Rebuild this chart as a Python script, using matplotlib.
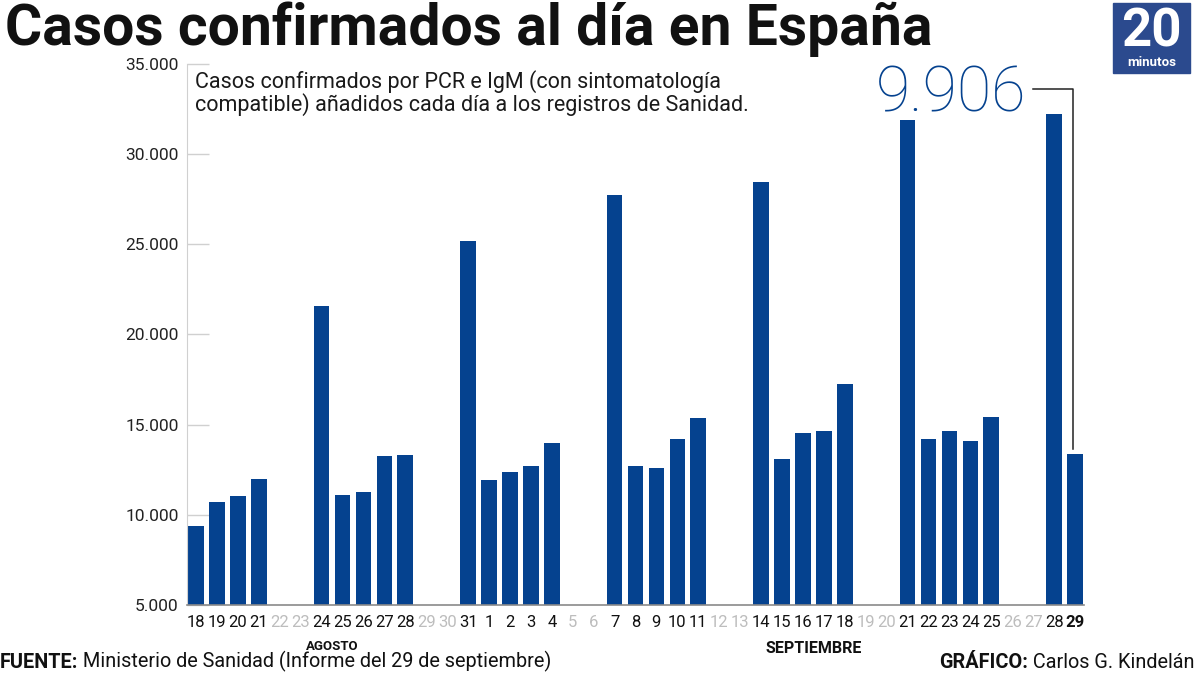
import numpy as np
import matplotlib
matplotlib.use("Agg")
import matplotlib.pyplot as plt
import matplotlib.ticker as mticker
from matplotlib.patches import Rectangle

# Datos: casos añadidos cada dia (nan = fin de semana, sin datos)
dias = ["18", "19", "20", "21", "22", "23", "24", "25", "26", "27", "28", "29", "30", "31",
        "1", "2", "3", "4", "5", "6", "7", "8", "9", "10", "11", "12", "13", "14",
        "15", "16", "17", "18", "19", "20", "21", "22", "23", "24", "25", "26", "27", "28", "29"]
casos = [9390, 10735, 11030, 11970, np.nan, np.nan, 21600, 11090, 11290, 13270, 13330, np.nan, np.nan, 25200,
         11950, 12350, 12700, 13960, np.nan, np.nan, 27760, 12700, 12570, 14180, 15390, np.nan, np.nan, 28460,
         13090, 14560, 14650, 17270, np.nan, np.nan, 31900, 14180, 14650, 14070, 15440, np.nan, np.nan, 32200, 13390]
ultimo_dato = "9.906"
meses = ["AGOSTO", "SEPTIEMBRE"]
meses_centro = [6.5, 29.5]

AZUL = "#05428f"
FUENTE = ["Roboto", "DejaVu Sans"]

fig = plt.figure(figsize=(12, 6.75), dpi=100)
ax = fig.add_axes([187 / 1200, 70 / 675, 897 / 1200, 541 / 675])

x = np.arange(len(dias))
ax.bar(x, casos, width=0.75, color=AZUL, zorder=2)

ax.set_xlim(-0.43, len(dias) - 0.57)
ax.set_ylim(5000, 35000)

# Eje Y
ax.yaxis.set_major_locator(mticker.MultipleLocator(5000))
ax.yaxis.set_major_formatter(mticker.FuncFormatter(lambda v, p: f"{int(v):,}".replace(",", ".")))
ax.tick_params(axis="y", direction="in", length=16, width=1, color="#d0d0d0",
               labelsize=12.5, labelcolor="#222222", pad=6)
for lab in ax.get_yticklabels():
    lab.set_family(FUENTE)

# Eje X
ax.set_xticks(x)
ax.set_xticklabels(dias)
ax.tick_params(axis="x", length=0, pad=7, labelsize=12)
for i, lab in enumerate(ax.get_xticklabels()):
    lab.set_family(FUENTE)
    if np.isnan(casos[i]):
        lab.set_color("#bdbdbd")
    else:
        lab.set_color("#111111")
    if i == len(dias) - 1:
        lab.set_fontweight("bold")

for s in ["top", "right"]:
    ax.spines[s].set_visible(False)
ax.spines["left"].set_color("#d0d0d0")
ax.spines["bottom"].set_color("#8a8a8a")
ax.spines["bottom"].set_linewidth(1.2)

# Meses
ax.text(meses_centro[0], -0.077, meses[0], transform=ax.get_xaxis_transform(),
        ha="center", va="center", fontsize=9.5, fontweight="bold", family=FUENTE, color="#111111")
ax.text(meses_centro[1], -0.08, meses[1], transform=ax.get_xaxis_transform(),
        ha="center", va="center", fontsize=11.5, fontweight="bold", family=FUENTE, color="#111111")

# Texto explicativo
ax.text(0.009, 0.988, "Casos confirmados por PCR e IgM (con sintomatología\n"
        "compatible) añadidos cada día a los registros de Sanidad.",
        transform=ax.transAxes, ha="left", va="top", fontsize=15.5, family=FUENTE,
        color="#1a1a1a", linespacing=0.98)

# Ultimo dato y conector
ult = len(dias) - 1
ax.text(36.1, 32340, ultimo_dato, ha="center", va="baseline", fontsize=45,
        family=FUENTE, fontweight="light", color=AZUL)
ax.plot([40.0, ult - 0.1, ult - 0.1], [33620, 33620, casos[ult] + 250],
        color="#222222", lw=1.1, clip_on=False, zorder=3)

# Titulo
fig.text(0.004, 0.998, "Casos confirmados al día en España", ha="left", va="top",
         fontsize=41, fontweight="bold", family=FUENTE, color="#111111")

# Logo 20minutos
fig.patches.append(Rectangle((1113 / 1200, 1 - 73 / 675), 77 / 1200, 70 / 675,
                             transform=fig.transFigure, color="#2b4a8e", zorder=5))
fig.text(1151.5 / 1200, 1 - 32 / 675, "20", ha="center", va="center", fontsize=38,
         color="white", fontweight="bold", family=FUENTE, zorder=6)
fig.text(1151.5 / 1200, 1 - 63 / 675, "minutos", ha="center", va="center", fontsize=9.5,
         color="white", fontweight="bold", family=FUENTE, zorder=6)

# Pie
t1 = fig.text(0.0, 1 - 653 / 675, "FUENTE:", ha="left", va="top", fontsize=14.3,
              fontweight="bold", family=FUENTE, color="#111111")
ax.annotate(" Ministerio de Sanidad (Informe del 29 de septiembre)", xy=(1, 0), xycoords=t1,
            ha="left", va="bottom", fontsize=14.3, family=FUENTE, color="#111111",
            annotation_clip=False)
t2 = fig.text(1195 / 1200, 1 - 653 / 675, " Carlos G. Kindelán", ha="right", va="top",
              fontsize=14.3, family=FUENTE, color="#111111")
ax.annotate("GRÁFICO:", xy=(0, 0), xycoords=t2, ha="right", va="bottom", fontsize=14.3,
            fontweight="bold", family=FUENTE, color="#111111", annotation_clip=False)

fig.savefig("out.png", dpi=100)
